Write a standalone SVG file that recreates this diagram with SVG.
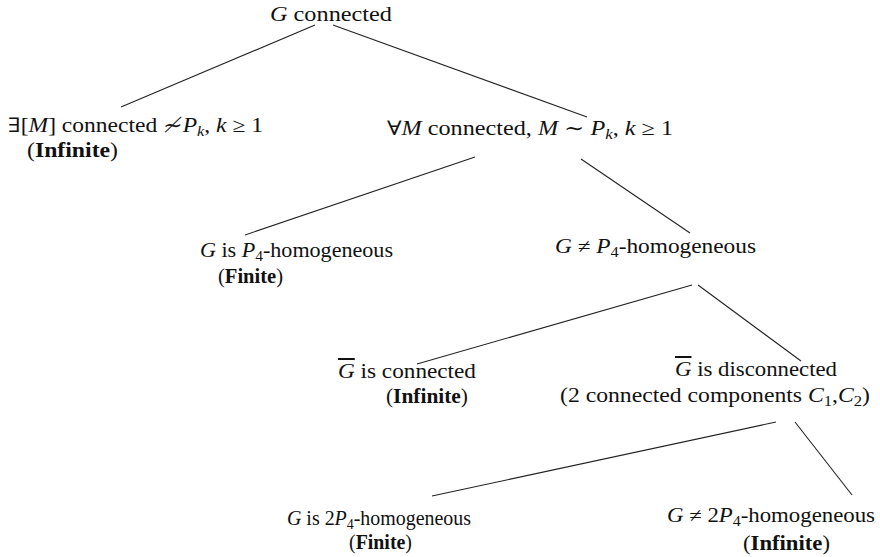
<svg xmlns="http://www.w3.org/2000/svg" width="880" height="557" viewBox="0 0 880 557">
<style>
text{font-family:"Liberation Serif","DejaVu Serif",serif;font-size:20px;fill:#111}
.i{font-style:italic}
.b{font-weight:bold}
.s{font-size:14px}
.ol{text-decoration:overline}
#connectors line{stroke:#222;stroke-width:1.1}
</style>
<rect width="880" height="557" fill="#fff"/>
<g id="connectors">
<line x1="315" y1="25" x2="121" y2="107"/>
<line x1="333" y1="25" x2="587" y2="117"/>
<line x1="475" y1="157" x2="245" y2="235"/>
<line x1="581" y1="159" x2="690" y2="233"/>
<line x1="692" y1="285" x2="417" y2="364"/>
<line x1="698" y1="285" x2="801" y2="361"/>
<line x1="776" y1="422" x2="432" y2="496"/>
<line x1="795" y1="422" x2="852" y2="495"/>
</g>
<g id="root"><text x="270" y="21" textLength="122" lengthAdjust="spacingAndGlyphs"><tspan class="i">G</tspan> connected</text></g>
<g id="n1">
<text x="8" y="132" textLength="255" lengthAdjust="spacingAndGlyphs">∃[<tspan class="i">M</tspan>] connected ≁<tspan class="i">P</tspan><tspan class="i s" dy="4">k</tspan><tspan dy="-4">, </tspan><tspan class="i">k</tspan> ≥ 1</text>
<text x="27" y="157" textLength="91" lengthAdjust="spacingAndGlyphs">(<tspan class="b">Infinite</tspan>)</text>
</g>
<g id="n2"><text x="387" y="135" textLength="286" lengthAdjust="spacingAndGlyphs">∀<tspan class="i">M</tspan> connected, <tspan class="i">M</tspan> ∼ <tspan class="i">P</tspan><tspan class="i s" dy="4">k</tspan><tspan dy="-4">, </tspan><tspan class="i">k</tspan> ≥ 1</text></g>
<g id="n3">
<text x="200" y="257" textLength="193" lengthAdjust="spacingAndGlyphs"><tspan class="i">G</tspan> is <tspan class="i">P</tspan><tspan class="s" dy="4">4</tspan><tspan dy="-4">-homogeneous</tspan></text>
<text x="218" y="283" textLength="65" lengthAdjust="spacingAndGlyphs">(<tspan class="b">Finite</tspan>)</text>
</g>
<g id="n4"><text x="555" y="253" textLength="201" lengthAdjust="spacingAndGlyphs"><tspan class="i">G</tspan> ≠ <tspan class="i">P</tspan><tspan class="s" dy="4">4</tspan><tspan dy="-4">-homogeneous</tspan></text></g>
<g id="n5">
<text x="338" y="378" textLength="138" lengthAdjust="spacingAndGlyphs"><tspan class="i ol">G</tspan> is connected</text>
<text x="386" y="403" textLength="82" lengthAdjust="spacingAndGlyphs">(<tspan class="b">Infinite</tspan>)</text>
</g>
<g id="n6">
<text x="675" y="376" textLength="162" lengthAdjust="spacingAndGlyphs"><tspan class="i ol">G</tspan> is disconnected</text>
<text x="560" y="402" textLength="310" lengthAdjust="spacingAndGlyphs">(2 connected components <tspan class="i">C</tspan><tspan class="s" dy="4">1</tspan><tspan dy="-4">,</tspan><tspan class="i">C</tspan><tspan class="s" dy="4">2</tspan><tspan dy="-4">)</tspan></text>
</g>
<g id="n7">
<text x="287" y="525" textLength="184" lengthAdjust="spacingAndGlyphs"><tspan class="i">G</tspan> is 2<tspan class="i">P</tspan><tspan class="s" dy="4">4</tspan><tspan dy="-4">-homogeneous</tspan></text>
<text x="349" y="549" textLength="63" lengthAdjust="spacingAndGlyphs">(<tspan class="b">Finite</tspan>)</text>
</g>
<g id="n8">
<text x="667" y="522" textLength="208" lengthAdjust="spacingAndGlyphs"><tspan class="i">G</tspan> ≠ 2<tspan class="i">P</tspan><tspan class="s" dy="4">4</tspan><tspan dy="-4">-homogeneous</tspan></text>
<text x="743" y="550" textLength="87" lengthAdjust="spacingAndGlyphs">(<tspan class="b">Infinite</tspan>)</text>
</g>
</svg>
